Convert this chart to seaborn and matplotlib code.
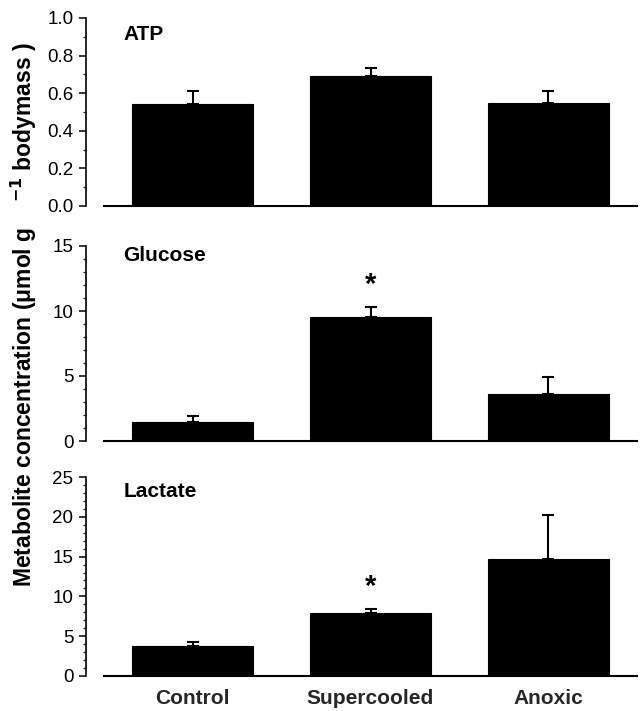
import matplotlib
matplotlib.use("Agg")
import matplotlib.pyplot as plt
import seaborn as sns
import pandas as pd
import numpy as np
from matplotlib.ticker import AutoMinorLocator

sns.set_theme(style="white")
plt.rcParams['font.family'] = ['Liberation Sans', 'DejaVu Sans']

groups = ["Control", "Supercooled", "Anoxic"]
atp_mean = [0.54, 0.69, 0.55]
atp_err = [0.07, 0.045, 0.06]
glucose_mean = [1.46, 9.55, 3.65]
glucose_err = [0.47, 0.75, 1.25]
lactate_mean = [3.8, 7.95, 14.7]
lactate_err = [0.5, 0.45, 5.5]

panels = [
    ("ATP", atp_mean, atp_err, 1.0, 2, [0.0, 0.2, 0.4, 0.6, 0.8, 1.0], ["0.0", "0.2", "0.4", "0.6", "0.8", "1.0"], None),
    ("Glucose", glucose_mean, glucose_err, 15, 5, [0, 5, 10, 15], ["0", "5", "10", "15"], 12.0),
    ("Lactate", lactate_mean, lactate_err, 25, 5, [0, 5, 10, 15, 20, 25], ["0", "5", "10", "15", "20", "25"], 11.2),
]

fig = plt.figure(figsize=(6.4, 7.11), dpi=100)
W, H = 640, 711
boxes = [(18, 206), (246, 441), (477, 676)]
left_px, right_px = 104, 637

for i, ((name, means, errs, ymax, nminor, ticks, ticklabels, star_y), (top, bot)) in enumerate(zip(panels, boxes)):
    ax = fig.add_axes([left_px / W, 1 - bot / H, (right_px - left_px) / W, (bot - top) / H])
    df = pd.DataFrame({"group": groups, "value": means})
    sns.barplot(data=df, x="group", y="value", order=groups, color="black",
                width=0.68, edgecolor="black", linewidth=0.8, saturation=1, ax=ax, errorbar=None)
    xs = np.arange(len(groups))
    ax.errorbar(xs, means, yerr=[np.zeros(len(errs)), errs], fmt="none", ecolor="black",
                elinewidth=1.5, capsize=4, capthick=1.5, zorder=3)
    ax.set_xlim(-0.5, 2.5)
    ax.set_ylim(0, ymax)
    ax.set_yticks(ticks)
    ax.set_yticklabels(ticklabels)
    ax.yaxis.set_minor_locator(AutoMinorLocator(nminor))
    ax.tick_params(axis="y", which="major", direction="out", length=5, width=1.1, left=True,
                   pad=4, colors="black", labelsize=13.5)
    ax.tick_params(axis="y", which="minor", direction="out", length=2.5, width=0.9, left=True)
    ax.tick_params(axis="x", length=0)
    for s in ("top", "right"):
        ax.spines[s].set_visible(False)
    ax.spines["left"].set_position(("outward", 13))
    ax.spines["left"].set_color("black")
    ax.spines["left"].set_linewidth(1.2)
    ax.spines["bottom"].set_color("black")
    ax.spines["bottom"].set_linewidth(1.5)
    ax.set_xlabel("")
    ax.set_ylabel("")
    title_y = [0.91, 0.95, 0.925][i]
    ax.text(0.036, title_y, name, transform=ax.transAxes, fontsize=15, fontweight="bold",
            ha="left", va="center", color="black")
    if star_y is not None:
        ax.text(1, star_y, "*", fontsize=21, fontweight="bold", ha="center", va="center", color="black")
    if i < 2:
        ax.set_xticklabels([])
    else:
        ax.set_xticks(xs)
        ax.set_xticklabels(groups, fontsize=15, fontweight="bold")
        ax.tick_params(axis="x", pad=9)

fig.text(24 / W, 1 - 315 / H, "Metabolite concentration (μmol g    $\\mathbf{^{-1}}$ bodymass )",
         rotation=90, ha="center", va="center", fontsize=16.5, fontweight="bold", color="black")

fig.savefig("out.png", dpi=100)
